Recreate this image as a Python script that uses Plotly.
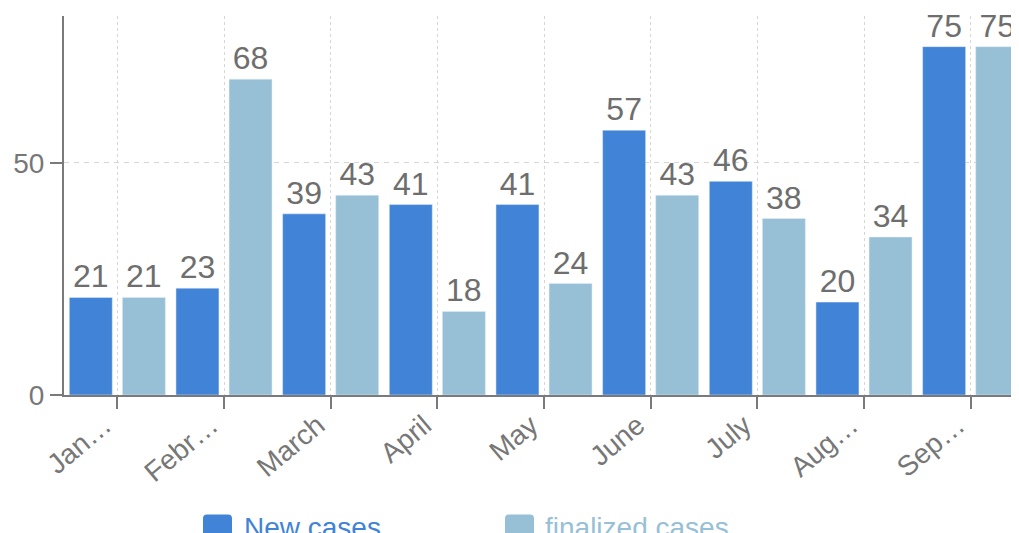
import plotly.graph_objects as go

months = ["January", "February", "March", "April", "May", "June", "July", "August", "September"]
tick_labels = ["Jan…", "Febr…", "March", "April", "May", "June", "July", "Aug…", "Sep…"]
new_cases = [21, 23, 39, 41, 41, 57, 46, 20, 75]
finalized_cases = [21, 68, 43, 18, 24, 43, 38, 34, 75]

BLUE = "#4183d6"
LIGHT = "#97c0d6"
GREY = "#6e6e6e"
FONT = "Liberation Sans, Arial, sans-serif"

fig = go.Figure()
for name, vals, color in [("New cases", new_cases, BLUE), ("finalized cases", finalized_cases, LIGHT)]:
    fig.add_trace(go.Bar(
        x=months, y=vals, name=name, marker_color=color,
        text=vals, textposition="outside", cliponaxis=False,
        textfont=dict(size=32, color=GREY, family=FONT), showlegend=False,
    ))

# page has an 8px body margin: work in screen pixels and subtract it
OFF = 8
W, H = 1019, 533
L, T, R = 64 - OFF, 16 - OFF, 3
PB = 395 - OFF  # plot bottom in figure pixels
B = H - PB
pw, ph = W - L - R, PB - T


def px_to_paper(sx, sy):
    x, y = sx - OFF, sy - OFF
    return (x - L) / pw, (PB - y) / ph


def rounded_path(half=14.5, r=4):
    h = half
    return (f"M {-h + r},{-h} L {h - r},{-h} Q {h},{-h} {h},{-h + r} "
            f"L {h},{h - r} Q {h},{h} {h - r},{h} L {-h + r},{h} "
            f"Q {-h},{h} {-h},{h - r} L {-h},{-h + r} Q {-h},{-h} {-h + r},{-h} Z")


legend_items = [("New cases", BLUE, 217.5, 242), ("finalized cases", LIGHT, 519.5, 543)]
shapes = []
annotations = []
for label, color, cx, tx in legend_items:
    ax, ay = px_to_paper(cx, 529)
    shapes.append(dict(type="path", xref="paper", yref="paper", xsizemode="pixel",
                       ysizemode="pixel", xanchor=ax, yanchor=ay, path=rounded_path(),
                       fillcolor=color, line=dict(width=0)))
    tx_p, ty_p = px_to_paper(tx, 527.5)
    annotations.append(dict(text=label, xref="paper", yref="paper", x=tx_p, y=ty_p,
                            xanchor="left", yanchor="middle", showarrow=False,
                            font=dict(size=28, color=color, family=FONT)))

fig.update_layout(
    width=W, height=H,
    margin=dict(l=L, r=R, t=T, b=B, pad=0),
    paper_bgcolor="white", plot_bgcolor="white",
    barmode="group", bargap=0.005, bargroupgap=0.19,
    font=dict(family=FONT, color=GREY),
    shapes=shapes, annotations=annotations,
    showlegend=False,
)
fig.update_xaxes(
    type="category", range=[-0.5, 8.5],
    tickmode="array", tickvals=months, ticktext=tick_labels,
    tickangle=-40, tickfont=dict(size=28, color="#777777", family=FONT),
    ticklabelshift=-13, ticklabelstandoff=-11,
    showline=True, linecolor="#7a7a7a", linewidth=2,
    ticks="outside", ticklen=12, tickwidth=2, tickcolor="#7a7a7a",
    showgrid=True, gridcolor="#d6d6d6", gridwidth=1, griddash="3px,3px",
    zeroline=False,
)
fig.update_yaxes(
    range=[0, 81.6], tickvals=[0, 50],
    tickfont=dict(size=28, color="#777777", family=FONT),
    showline=True, linecolor="#7a7a7a", linewidth=2,
    ticks="outside", ticklen=12, tickwidth=2, tickcolor="#7a7a7a",
    showgrid=True, gridcolor="#d6d6d6", gridwidth=1, griddash="5px,5px",
    zeroline=False,
)

fig.write_html("out.html")
